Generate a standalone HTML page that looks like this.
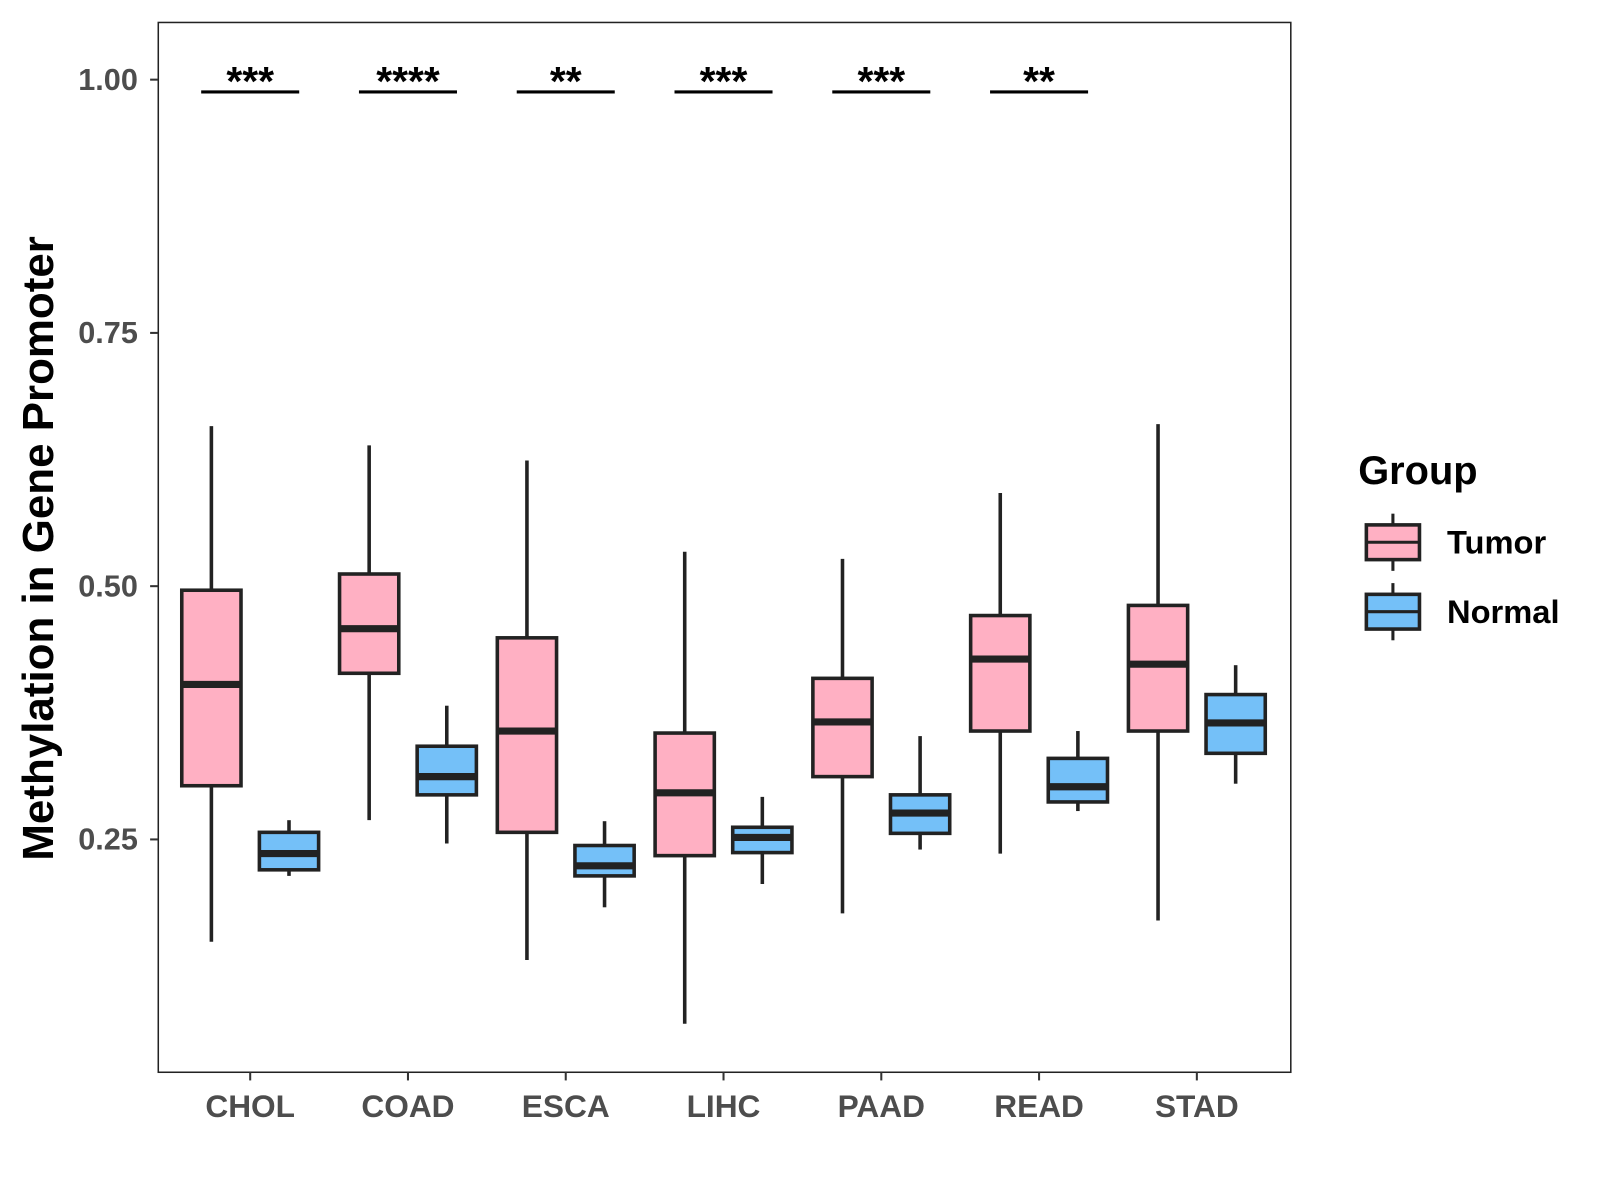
<!DOCTYPE html>
<html><head><meta charset="utf-8"><style>body{margin:0;background:#fff}svg{display:block}text{font-family:"Liberation Sans",Arial,sans-serif}</style></head>
<body>
<svg width="1600" height="1200" viewBox="0 0 1600 1200"><g id="chart" transform="scale(1.0212)"></g></svg>
<script>
const categories=["CHOL","COAD","ESCA","LIHC","PAAD","READ","STAD"];
const tumorStats=[[0.149,0.303,0.403,0.496,0.658],[0.269,0.414,0.458,0.512,0.639],[0.131,0.257,0.357,0.449,0.624],[0.068,0.234,0.296,0.355,0.534],[0.177,0.312,0.366,0.409,0.527],[0.236,0.357,0.428,0.471,0.592],[0.170,0.357,0.423,0.481,0.660]];
const normalStats=[[0.214,0.220,0.236,0.257,0.269],[0.246,0.294,0.312,0.342,0.382],[0.183,0.214,0.224,0.244,0.268],[0.206,0.237,0.252,0.262,0.292],[0.240,0.256,0.276,0.294,0.352],[0.278,0.287,0.302,0.330,0.357],[0.305,0.335,0.365,0.393,0.422]];
const signif=["***","****","**","***","***","**",""];
const yTicks=[0.25,0.5,0.75,1.0];
const yTickLabels=["0.25","0.50","0.75","1.00"];

const svg=document.getElementById('chart');
const NS="http://www.w3.org/2000/svg";
const L=155,R=1264,T=22,B=1050;
const y=v=>78+(1-v)*992;
const x=i=>245+i*154.5;
function mk(tag,attrs,parent){const e=document.createElementNS(NS,tag);for(const k in attrs)e.setAttribute(k,attrs[k]);(parent||svg).appendChild(e);return e;}

const panel=mk('rect',{x:L,y:T,width:R-L,height:B-T,fill:'#fff',stroke:'#222','stroke-width':1.5});



yTicks.forEach((v,i)=>{
  const t=mk('line',{x1:L-8,x2:L,y1:y(v),y2:y(v),stroke:'#333','stroke-width':2});
  
  
  const l=mk('text',{x:L-20,y:y(v)+10,'text-anchor':'end','font-size':30,'font-weight':'bold',fill:'#4d4d4d'});
  l.textContent=yTickLabels[i];
  
  
});

function box(cx,s,fill,name){
  const g=mk('g',{});
  
  
  const w=58;
  mk('line',{x1:cx,x2:cx,y1:y(s[4]),y2:y(s[3]),stroke:'#222','stroke-width':3.5},g);
  mk('line',{x1:cx,x2:cx,y1:y(s[1]),y2:y(s[0]),stroke:'#222','stroke-width':3.5},g);
  mk('rect',{x:cx-w/2,y:y(s[3]),width:w,height:y(s[1])-y(s[3]),fill:fill,stroke:'#222','stroke-width':3.5},g);
  mk('line',{x1:cx-w/2,x2:cx+w/2,y1:y(s[2]),y2:y(s[2]),stroke:'#222','stroke-width':7},g);
}

categories.forEach((c,i)=>{
  const cx=x(i);
  const t=mk('line',{x1:cx,x2:cx,y1:B,y2:B+8,stroke:'#333','stroke-width':2});
  
  
  const l=mk('text',{x:cx,y:B+44,'text-anchor':'middle','font-size':31,'font-weight':'bold',fill:'#4d4d4d'});
  l.textContent=c;
  
  
  box(cx-38,tumorStats[i],'#FFB0C3','tumor-box-'+c.toLowerCase());
  box(cx+38,normalStats[i],'#74C0F8','normal-box-'+c.toLowerCase());
  if(signif[i]){
    const b=mk('line',{x1:cx-48,x2:cx+48,y1:90,y2:90,stroke:'#000','stroke-width':3});
    
    
    const s=mk('text',{x:cx,y:93,'text-anchor':'middle','font-size':40,'font-weight':'bold',fill:'#000'});
    s.textContent=signif[i];
    
    
  }
});

const yt=mk('text',{x:0,y:0,transform:'translate(52,537) rotate(-90)','text-anchor':'middle','font-size':43,'font-weight':'bold',fill:'#000'});
yt.textContent='Methylation in Gene Promoter';



const lt=mk('text',{x:1330,y:474,'font-size':39,'font-weight':'bold',fill:'#000'});
lt.textContent='Group';


[['Tumor','#FFB0C3',531],['Normal','#74C0F8',599]].forEach(([n,f,cy])=>{
  const g=mk('g',{});
  
  
  mk('line',{x1:1364,x2:1364,y1:cy-28,y2:cy+28,stroke:'#222','stroke-width':3},g);
  mk('rect',{x:1338,y:cy-17,width:52,height:34,fill:f,stroke:'#222','stroke-width':3.5},g);
  mk('line',{x1:1338,x2:1390,y1:cy,y2:cy,stroke:'#222','stroke-width':3},g);
  const t=mk('text',{x:1417,y:cy+11,'font-size':32,'font-weight':'bold',fill:'#000'},g);
  t.textContent=n;
});
</script>
</body></html>
